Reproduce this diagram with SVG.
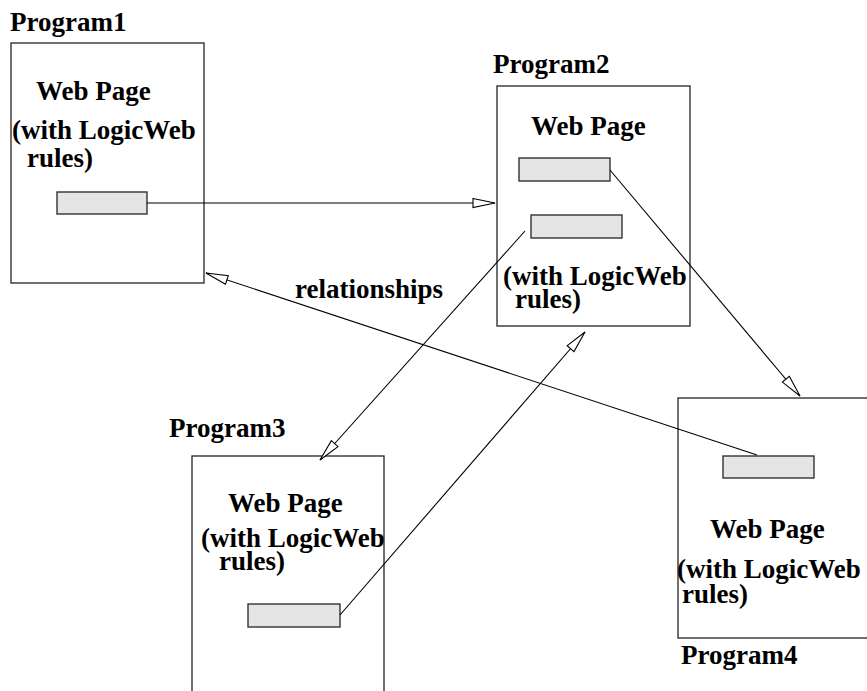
<svg xmlns="http://www.w3.org/2000/svg" width="867" height="691" viewBox="0 0 867 691">
  <defs>
    <style>
      .page { fill: #ffffff; stroke: #333333; stroke-width: 1.4; }
      .anchor { fill: #e5e5e5; stroke: #333333; stroke-width: 1.4; }
      .label { font-family: "Liberation Serif", "Times New Roman", serif; font-weight: bold; font-size: 27px; fill: #000000; }
      .link { stroke: #000000; stroke-width: 1.1; fill: none; marker-end: url(#hollow); }
    </style>
    <marker id="hollow" markerUnits="userSpaceOnUse" markerWidth="24" markerHeight="12" refX="22" refY="5" orient="auto" overflow="visible">
      <path d="M0,0.5 L22,5 L0,9.5 Z" fill="#ffffff" stroke="#000000" stroke-width="1.1"/>
    </marker>
  </defs>
  <rect width="867" height="691" fill="#ffffff"/>

  <g id="program1">
    <rect class="page" x="11" y="43" width="193" height="240"/>
    <text class="label" x="10" y="31">Program1</text>
    <text class="label" x="36" y="100">Web Page</text>
    <text class="label" x="12" y="139">(with LogicWeb</text>
    <text class="label" x="27" y="167">rules)</text>
    <rect class="anchor" x="57" y="192" width="90" height="22"/>
  </g>

  <g id="program2">
    <rect class="page" x="497" y="86" width="193" height="240"/>
    <text class="label" x="493" y="73">Program2</text>
    <text class="label" x="531" y="135">Web Page</text>
    <rect class="anchor" x="519" y="158" width="91" height="23"/>
    <rect class="anchor" x="531" y="215" width="91" height="23"/>
    <text class="label" x="503" y="285">(with LogicWeb</text>
    <text class="label" x="515" y="308">rules)</text>
  </g>

  <g id="program3">
    <rect class="page" x="192" y="456" width="192" height="260"/>
    <text class="label" x="169" y="437">Program3</text>
    <text class="label" x="228" y="512">Web Page</text>
    <text class="label" x="201" y="547">(with LogicWeb</text>
    <text class="label" x="219" y="570">rules)</text>
    <rect class="anchor" x="248" y="604" width="92" height="23"/>
  </g>

  <g id="program4">
    <rect class="page" x="678" y="398" width="193" height="240"/>
    <rect class="anchor" x="723" y="456" width="91" height="22"/>
    <text class="label" x="710" y="538">Web Page</text>
    <text class="label" x="677" y="578">(with LogicWeb</text>
    <text class="label" x="682" y="603">rules)</text>
    <text class="label" x="681" y="664">Program4</text>
  </g>

  <g id="connectors">
    <line class="link" x1="147" y1="203" x2="495" y2="203"/>
    <line class="link" x1="610" y1="170" x2="800" y2="396"/>
    <line class="link" x1="525" y1="231" x2="320" y2="460"/>
    <line class="link" x1="340" y1="615" x2="585" y2="332"/>
    <line class="link" x1="757" y1="455" x2="206" y2="273"/>
    <text class="label" x="295" y="298">relationships</text>
  </g>
</svg>
